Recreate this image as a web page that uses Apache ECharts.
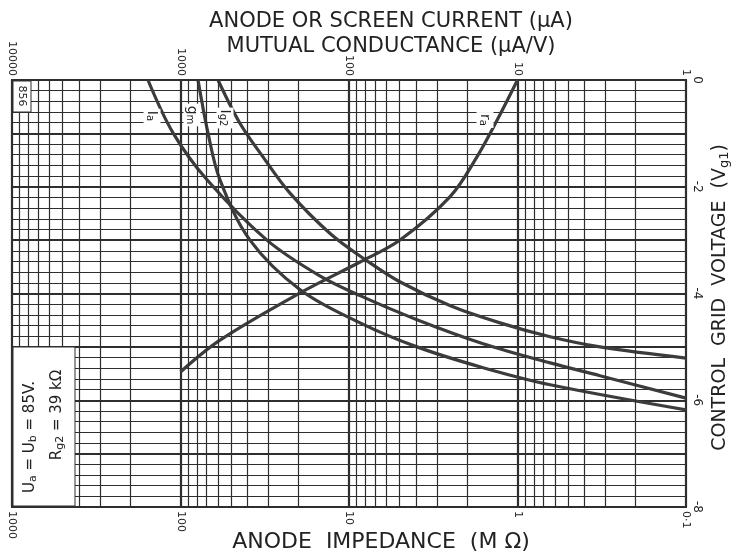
<!DOCTYPE html>
<html><head><meta charset="utf-8">
<script src="https://cdn.jsdelivr.net/npm/echarts@6/dist/echarts.min.js"></script>
<style>html,body{margin:0;padding:0;background:#fff}#c{width:737px;height:553px}</style>
</head><body><div id="c"></div>
<script>
// Tick labels
const currentTicks = [10000, 1000, 100, 10, 1];
const impedanceTicks = [1000, 100, 10, 1, 0.1];
const voltageTicks = [0, -2, -4, -6, -8];

// Anode current Ia (µA) vs control grid voltage
const iaVolts = [0, -0.99, -1.87, -3.0, -3.67, -4.04, -4.49, -4.94, -5.3, -5.54, -5.96];
const iaCurrent = [1560, 1108, 696, 307, 149, 86, 39.5, 16, 6.4, 3.24, 1.0];

// Mutual conductance gm (µA/V)
const gmVolts = [0, -0.99, -1.87, -3.0, -3.93, -4.55, -5.0, -5.39, -5.71, -6.18];
const gmValues = [787, 687, 583, 387, 195, 86, 39.5, 16, 6.4, 1.0];

// Screen current Ig2 (µA)
const ig2Volts = [0, -0.81, -1.44, -2.12, -2.88, -3.39, -3.78, -4.23, -4.55, -4.81, -5.0, -5.21];
const ig2Current = [599, 444, 324, 224, 129, 78, 50, 25, 12.7, 6.4, 3.24, 1.0];

// Anode impedance ra (MΩ)
const raVolts = [0, -0.75, -1.44, -2.19, -2.998, -3.41, -3.99, -4.87, -5.47];
const raImpedance = [1.0, 1.32, 1.74, 2.52, 4.98, 8.6, 19.5, 58, 100];

const pair = (xs, ys) => xs.map((x, i) => [x, ys[i]]);

// minor log grid positions (2..9 per decade)
const minorGrid = [];
for (let k = 0; k < 4; k++) for (let m = 2; m <= 9; m++) minorGrid.push({ xAxis: m * Math.pow(10, k) });

const ink = '#2e2e2e';
const curve = { color: '#3c3c3c', width: 3.2 };
const FONT = 'DejaVu Sans';
const lbl = (t, s, x, y, rot) => ({
  type: 'text', x, y, rotation: rot, z: 51,
  style: { text: '{n|' + t + '}{s|' + s + '}', align: 'center', verticalAlign: 'middle', backgroundColor: '#fff', padding: [1, 2],
    rich: { n: { fontFamily: FONT, fontSize: 14, fill: '#222' }, s: { fontFamily: FONT, fontSize: 10, fill: '#222', padding: [5, 0, 0, 0] } } }
});

const chart = echarts.init(document.getElementById('c'), null, { renderer: 'canvas' });
chart.setOption({
  animation: false,
  backgroundColor: '#fff',
  title: [{
    text: 'ANODE OR SCREEN CURRENT (µA)\nMUTUAL CONDUCTANCE (µA/V)',
    left: 386, top: 4, textAlign: 'center',
    textStyle: { fontFamily: FONT, fontSize: 21, fontWeight: 'normal', color: '#222', lineHeight: 25 }
  }, {
    text: 'ANODE  IMPEDANCE  (M Ω)',
    left: 376, top: 526, textAlign: 'center',
    textStyle: { fontFamily: FONT, fontSize: 22, fontWeight: 'normal', color: '#222' }
  }],
  grid: { left: 12, right: 51, top: 80, bottom: 46, containLabel: false, outerBoundsMode: 'none',
    show: true, borderColor: ink, borderWidth: 2, backgroundColor: 'transparent' },
  xAxis: [{
    type: 'log', logBase: 10, min: 1, max: 10000, inverse: true, position: 'top',
    axisLine: { show: true, lineStyle: { color: ink, width: 2 } },
    axisTick: { show: false },
    splitLine: { show: true, lineStyle: { color: ink, width: 2.2 } },
    axisLabel: {
      rotate: -90, margin: 4, fontFamily: FONT, fontSize: 11, color: '#222',
      formatter: v => { const t = currentTicks.find(c => Math.abs(c - v) / c < 1e-6); return t === undefined ? '' : String(t); }
    }
  }, {
    type: 'log', logBase: 10, min: 0.1, max: 1000, inverse: true, position: 'bottom',
    axisLine: { show: true, lineStyle: { color: ink, width: 2 } },
    axisTick: { show: false },
    splitLine: { show: false },
    axisLabel: {
      rotate: -90, margin: 4, fontFamily: FONT, fontSize: 11, color: '#222',
      formatter: v => { const t = impedanceTicks.find(c => Math.abs(c - v) / c < 1e-6); return t === undefined ? '' : (t === 0.1 ? '0·1' : String(t)); }
    }
  }],
  yAxis: {
    type: 'value', min: -8, max: 0, interval: 1, position: 'right',
    name: 'CONTROL  GRID  VOLTAGE  (V{s|g1})', nameLocation: 'middle', nameRotate: 90, nameGap: 22,
    nameTextStyle: { fontFamily: FONT, fontSize: 19, color: '#222', padding: [0, 8, 0, 0],
      rich: { s: { fontFamily: FONT, fontSize: 13, color: '#222', padding: [8, 0, 0, 0] } } },
    axisLine: { show: true, lineStyle: { color: ink, width: 2 } },
    axisTick: { show: false },
    splitLine: { show: true, lineStyle: { color: ink, width: 1.8 } },
    minorTick: { show: false, splitNumber: 5 },
    minorSplitLine: { show: true, lineStyle: { color: ink, width: 1.1 } },
    axisLabel: {
      rotate: -90, margin: 5, fontFamily: FONT, fontSize: 12, color: '#222',
      formatter: v => voltageTicks.indexOf(v) >= 0 ? (v === 0 ? '0' : '-' + Math.abs(v)) : ''
    }
  },
  series: [
    {
      type: 'line', name: 'grid', xAxisIndex: 0, data: [], z: 1, silent: true,
      markLine: { silent: true, symbol: ['none', 'none'], label: { show: false }, animation: false,
        lineStyle: { color: ink, width: 1.2, type: 'solid' }, data: minorGrid }
    },
    { type: 'line', name: 'Ia', xAxisIndex: 0, data: pair(iaCurrent, iaVolts), smooth: 0.35, symbol: 'none', lineStyle: curve, z: 3 },
    { type: 'line', name: 'gm', xAxisIndex: 0, data: pair(gmValues, gmVolts), smooth: 0.35, symbol: 'none', lineStyle: curve, z: 3 },
    { type: 'line', name: 'Ig2', xAxisIndex: 0, data: pair(ig2Current, ig2Volts), smooth: 0.35, symbol: 'none', lineStyle: curve, z: 3 },
    { type: 'line', name: 'ra', xAxisIndex: 1, data: pair(raImpedance, raVolts), smooth: 0.35, symbol: 'none', lineStyle: curve, z: 3 }
  ],
  graphic: [
    { type: 'rect', shape: { x: 13, y: 347, width: 62, height: 159 }, style: { fill: '#fff', stroke: ink, lineWidth: 1 }, z: 50 },
    { type: 'text', x: 30, y: 437, rotation: Math.PI / 2, z: 51,
      style: { text: '{n|U}{s|a}{n| = U}{s|b}{n| = 85V.}', align: 'center', verticalAlign: 'middle',
        rich: { n: { fontFamily: FONT, fontSize: 15, fill: '#222' }, s: { fontFamily: FONT, fontSize: 11, fill: '#222', padding: [6, 0, 0, 0] } } } },
    { type: 'text', x: 57, y: 415, rotation: Math.PI / 2, z: 51,
      style: { text: '{n|R}{s|g2}{n| = 39 kΩ}', align: 'center', verticalAlign: 'middle',
        rich: { n: { fontFamily: FONT, fontSize: 15, fill: '#222' }, s: { fontFamily: FONT, fontSize: 11, fill: '#222', padding: [6, 0, 0, 0] } } } },
    { type: 'rect', shape: { x: 13, y: 81, width: 18, height: 31 }, style: { fill: '#fff', stroke: ink, lineWidth: 1 }, z: 50 },
    { type: 'text', x: 22, y: 96, rotation: -Math.PI / 2, z: 51,
      style: { text: '856', align: 'center', verticalAlign: 'middle', font: '11px "DejaVu Sans"', fill: '#222' } },
    lbl('I', 'a', 152, 116, -Math.PI / 2),
    lbl('g', 'm', 192, 115, -Math.PI / 2),
    lbl('I', 'g2', 225, 118, -Math.PI / 2),
    lbl('r', 'a', 485, 120, -Math.PI / 2)
  ]
});
</script></body></html>
